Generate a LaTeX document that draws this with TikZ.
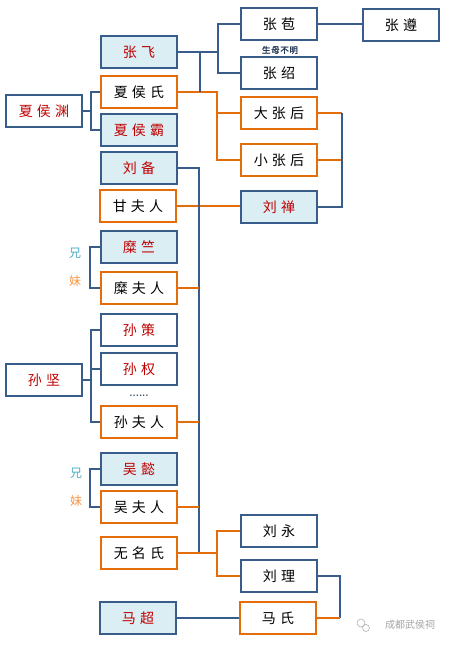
\documentclass[tikz,border=0pt]{standalone}
\usepackage{fontspec}
\usepackage{tikz}
\usetikzlibrary{calc}
\newfontfamily\cjk[LetterSpace=30]{Noto Sans CJK SC}
\newfontfamily\cjkplain{Noto Sans CJK SC}
\newfontfamily\cjkbold[FakeBold=1.5,LetterSpace=8]{Noto Sans CJK SC}
\definecolor{lineblue}{RGB}{56,93,138}
\definecolor{lineorange}{RGB}{228,108,10}
\definecolor{fillblue}{RGB}{219,238,244}
\definecolor{namered}{RGB}{192,0,0}
\definecolor{brocolor}{RGB}{75,172,198}
\definecolor{siscolor}{RGB}{247,150,70}
\tikzset{
  person/.style={draw=lineblue,line width=1.4pt,minimum width=76pt,minimum height=32pt,
    inner sep=0pt,font=\cjk\fontsize{14}{14}\selectfont},
  wife/.style={person,draw=lineorange},
  famous/.style={person,fill=fillblue,text=namered},
  redname/.style={person,text=namered},
  sibling/.style={font=\cjkplain\fontsize{12}{12}\selectfont},
  bline/.style={draw=lineblue,line width=1.1pt},
  oline/.style={draw=lineorange,line width=1.1pt}
}

\begin{document}
\begin{tikzpicture}[x=1pt,y=-1pt]
  \useasboundingbox[fill=white] (0,0) rectangle (449,645);
  % Zhang family
  \node[famous] (zhangfei) at (139,52) {张飞};
  \node[wife] (xiahoushi) at (139,92) {夏侯氏};
  \node[famous] (xiahouba) at (139,130) {夏侯霸};
  \node[redname] (xiahouyuan) at (44,111) {夏侯渊};
  \node[person] (zhangbao) at (279,24) {张苞};
  \node[person] (zhangzun) at (401,25) {张遵};
  \node[person] (zhangshao) at (279,73) {张绍};
  \node[font=\cjkbold\fontsize{8.5}{8.5}\selectfont,text=lineblue!60!black] (note) at (280,50) {生母不明};
  \node[wife] (dazhanghou) at (279,113) {大张后};
  \node[wife] (xiaozhanghou) at (279,160) {小张后};
  % Liu Bei and wives
  \node[famous] (liubei) at (139,168) {刘备};
  \node[wife] (ganfuren) at (138,206) {甘夫人};
  \node[famous,draw=lineblue] (liushan) at (279,207) {刘禅};
  \node[famous] (mizhu) at (139,247) {糜竺};
  \node[wife] (mifuren) at (139,288) {糜夫人};
  \node[sibling,text=brocolor] (xiong1) at (75,253) {兄};
  \node[sibling,text=siscolor] (mei1) at (75,281) {妹};
  \node[redname] (sunce) at (139,330) {孙策};
  \node[redname] (sunquan) at (139,369) {孙权};
  \node[text=lineblue!70!black,font=\bfseries] (dots) at (139,396) {......};
  \node[wife] (sunfuren) at (139,422) {孙夫人};
  \node[redname] (sunjian) at (44,380) {孙坚};
  \node[famous] (wuyi) at (139,469) {吴懿};
  \node[wife] (wufuren) at (139,507) {吴夫人};
  \node[sibling,text=brocolor] (xiong2) at (76,473) {兄};
  \node[sibling,text=siscolor] (mei2) at (76,501) {妹};
  \node[wife] (wumingshi) at (139,553) {无名氏};
  \node[person] (liuyong) at (279,531) {刘永};
  \node[person] (liuli) at (279,576) {刘理};
  \node[famous] (machao) at (138,618) {马超};
  \node[wife] (mashi) at (278,618) {马氏};
  \node[text=black!35,font=\cjkplain\fontsize{10}{10}\selectfont] (mark) at (410,625) {成都武侯祠};
  \draw[black!30,line width=0.6pt] (361,623) circle (4) (366,628) circle (3.5);

  \coordinate (jzf) at (218,52);
  \coordinate (mzf) at (200,52);
  \coordinate (jxh) at (217,92);
  \coordinate (jls) at (342,113);
  \coordinate (jlb) at (199,168);
  \coordinate (jwm) at (217,553);
  \coordinate (jll) at (340,576);
  \coordinate (jxy) at (91,111);
  \coordinate (jsj) at (91,380);
  \coordinate (jmz) at (90,247);
  \coordinate (jwy) at (90,469);

  % lines
  \draw[bline] (zhangfei.east) -- (jzf);
  \draw[bline] (zhangbao.west) -| (jzf) |- (zhangshao.west);
  \draw[bline] (zhangbao.east) -- (zhangbao.east -| zhangzun.west);
  \draw[oline] (xiahoushi.east) -- (jxh) |- (xiaozhanghou.west);
  \draw[oline] (jxh |- dazhanghou.west) -- (dazhanghou.west);
  \draw[bline] (mzf) -- (mzf |- xiahoushi.east);
  \draw[oline] (dazhanghou.east) -- (jls);
  \draw[oline] (xiaozhanghou.east) -- (xiaozhanghou.east -| jls);
  \draw[bline] (liushan.east) -- (liushan.east -| jls) -- (jls);
  \draw[oline] (ganfuren.east) -- (ganfuren.east -| liushan.west);
  \draw[bline] (xiahouyuan.east) -- (jxy);
  \draw[bline] (xiahoushi.west) -| (jxy) |- (xiahouba.west);
  \draw[bline] (mizhu.west) -- (jmz) |- (mifuren.west);
  \draw[bline] (sunjian.east) -- (jsj);
  \draw[bline] (sunce.west) -| (jsj) |- (sunfuren.west);
  \draw[bline] (sunquan.west) -- (sunquan.west -| jsj);
  \draw[bline] (wuyi.west) -- (jwy) |- (wufuren.west);
  \draw[bline] (liubei.east) -- (jlb) -- (jlb |- wumingshi.east);
  \draw[oline] (mifuren.east) -- (mifuren.east -| jlb);
  \draw[oline] (sunfuren.east) -- (sunfuren.east -| jlb);
  \draw[oline] (wufuren.east) -- (wufuren.east -| jlb);
  \draw[oline] (wumingshi.east) -- (jwm);
  \draw[oline] (liuyong.west) -| (jwm) |- (liuli.west);
  \draw[bline] (liuli.east) -- (jll) -- (jll |- mashi.east);
  \draw[oline] (mashi.east) -- (mashi.east -| jll);
  \draw[bline] (machao.east) -- (mashi.west);
\end{tikzpicture}
\end{document}
